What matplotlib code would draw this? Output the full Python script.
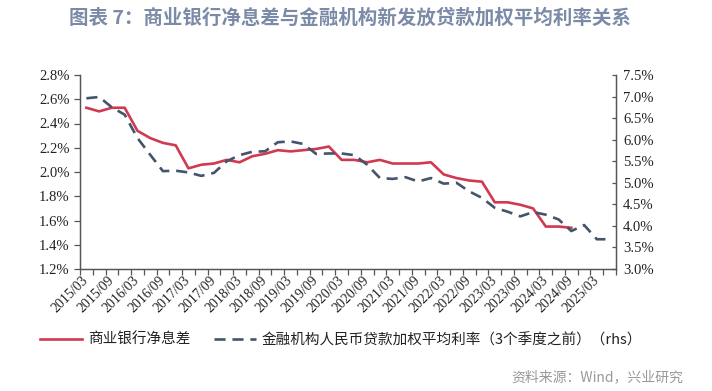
import matplotlib
matplotlib.use('Agg')
import matplotlib.pyplot as plt
from matplotlib.lines import Line2D
from matplotlib.ticker import FuncFormatter
import numpy as np

quarters = ["2015/03", "2015/06", "2015/09", "2015/12", "2016/03", "2016/06", "2016/09", "2016/12",
            "2017/03", "2017/06", "2017/09", "2017/12", "2018/03", "2018/06", "2018/09", "2018/12",
            "2019/03", "2019/06", "2019/09", "2019/12", "2020/03", "2020/06", "2020/09", "2020/12",
            "2021/03", "2021/06", "2021/09", "2021/12", "2022/03", "2022/06", "2022/09", "2022/12",
            "2023/03", "2023/06", "2023/09", "2023/12", "2024/03", "2024/06", "2024/09", "2024/12",
            "2025/03", "2025/06"]

tick_labels = ["2015/03", "2015/09", "2016/03", "2016/09", "2017/03", "2017/09", "2018/03",
               "2018/09", "2019/03", "2019/09", "2020/03", "2020/09", "2021/03", "2021/09",
               "2022/03", "2022/09", "2023/03", "2023/09", "2024/03", "2024/09", "2025/03"]

# 商业银行净息差 (%), left axis
nim = [2.53, 2.50, 2.53, 2.53, 2.34, 2.28, 2.24, 2.22, 2.03, 2.06, 2.07, 2.10, 2.08,
       2.13, 2.15, 2.18, 2.17, 2.18, 2.19, 2.21, 2.10, 2.10, 2.08, 2.10, 2.07, 2.07,
       2.07, 2.08, 1.98, 1.95, 1.93, 1.92, 1.75, 1.75, 1.73, 1.70, 1.55, 1.55, 1.54]

# 金融机构人民币贷款加权平均利率（3个季度之前）(%), right axis
loan_rate = [6.96, 6.99, 6.75, 6.58, 6.04, 5.65, 5.27, 5.28, 5.24, 5.16, 5.23, 5.50, 5.64,
             5.72, 5.73, 5.94, 5.96, 5.90, 5.67, 5.68, 5.68, 5.64, 5.42, 5.11, 5.09, 5.13,
             5.03, 5.11, 4.98, 5.00, 4.80, 4.65, 4.42, 4.33, 4.22, 4.32, 4.26, 4.15, 3.88,
             4.02, 3.69, 3.69]

left_ticks = [1.2, 1.4, 1.6, 1.8, 2.0, 2.2, 2.4, 2.6, 2.8]
right_ticks = [3.0, 3.5, 4.0, 4.5, 5.0, 5.5, 6.0, 6.5, 7.0, 7.5]

title = "图表 7：商业银行净息差与金融机构新发放贷款加权平均利率关系"
label_nim = "商业银行净息差"
label_rate = "金融机构人民币贷款加权平均利率（3个季度之前）（rhs）"
source = "资料来源：Wind，兴业研究"

CJK = ['Noto Sans CJK SC', 'DejaVu Sans']
SERIF = 'Liberation Serif'
RED = '#d0394f'
NAVY = '#44546a'
AX = '#555555'

fig = plt.figure(figsize=(7.12, 3.91), dpi=100)
ax = fig.add_axes([80 / 712, 1 - 269 / 391, (616 - 80) / 712, (269 - 75) / 391])
ax2 = ax.twinx()

x = np.arange(len(quarters))
ax.plot(x[:len(nim)], nim, color=RED, lw=1.9, zorder=3)
ax2.plot(x, loan_rate, color=NAVY, lw=1.9, ls=(0, (4.2, 2.6)))

ax.set_xlim(-0.5, len(quarters) - 0.5)
ax.set_ylim(1.2, 2.8)
ax2.set_ylim(3.0, 7.5)

pct = FuncFormatter(lambda v, p: f"{v:.1f}%")
ax.set_yticks(left_ticks)
ax.yaxis.set_major_formatter(pct)
ax2.set_yticks(right_ticks)
ax2.yaxis.set_major_formatter(pct)

major_pos = [quarters.index(t) for t in tick_labels]
ax.set_xticks(major_pos)
ax.set_xticklabels(tick_labels, rotation=45, ha='right', va='center', rotation_mode='anchor')
ax.set_xticks(np.arange(-0.5, len(quarters), 1), minor=True)
ax.tick_params(axis='x', which='major', length=0, pad=7)
ax.tick_params(axis='x', which='minor', length=4, direction='out', width=0.9, color=AX)
ax.tick_params(axis='y', which='major', length=4.5, direction='out', width=0.9, color=AX, pad=3)
ax2.tick_params(axis='y', which='major', length=3, direction='in', width=0.9, color=AX, pad=5)

for lab in ax.get_xticklabels():
    lab.set_fontfamily(SERIF)
    lab.set_fontsize(10)
    lab.set_color('#222222')
for lab in ax.get_yticklabels() + ax2.get_yticklabels():
    lab.set_fontfamily(SERIF)
    lab.set_fontsize(10.5)
    lab.set_color('#222222')

for a in (ax, ax2):
    a.spines['top'].set_visible(False)
    for s in ('left', 'right', 'bottom'):
        a.spines[s].set_color(AX)
        a.spines[s].set_linewidth(0.9)
    a.patch.set_visible(False)

fig.text(350 / 712, 1 - 18 / 391, title, ha='center', va='center', fontsize=14,
         fontweight='bold', color='#7b8ba7', family=CJK)

handles = [Line2D([], [], color=RED, lw=1.9),
           Line2D([], [], color=NAVY, lw=1.9, ls=(0, (4.2, 2.6)))]
leg = fig.legend(handles, [label_nim, label_rate], loc='center left',
                 bbox_to_anchor=(40 / 712, 1 - 340 / 391), ncol=2, frameon=False,
                 borderpad=0, borderaxespad=0, handlelength=2.9, handletextpad=0.4,
                 columnspacing=1.6, prop={'family': CJK, 'size': 10.5})
for t in leg.get_texts():
    t.set_color('#222222')

fig.text(683 / 712, 1 - 377 / 391, source, ha='right', va='center', fontsize=10,
         color='#999999', family=CJK)

fig.savefig('out.png', dpi=100)
